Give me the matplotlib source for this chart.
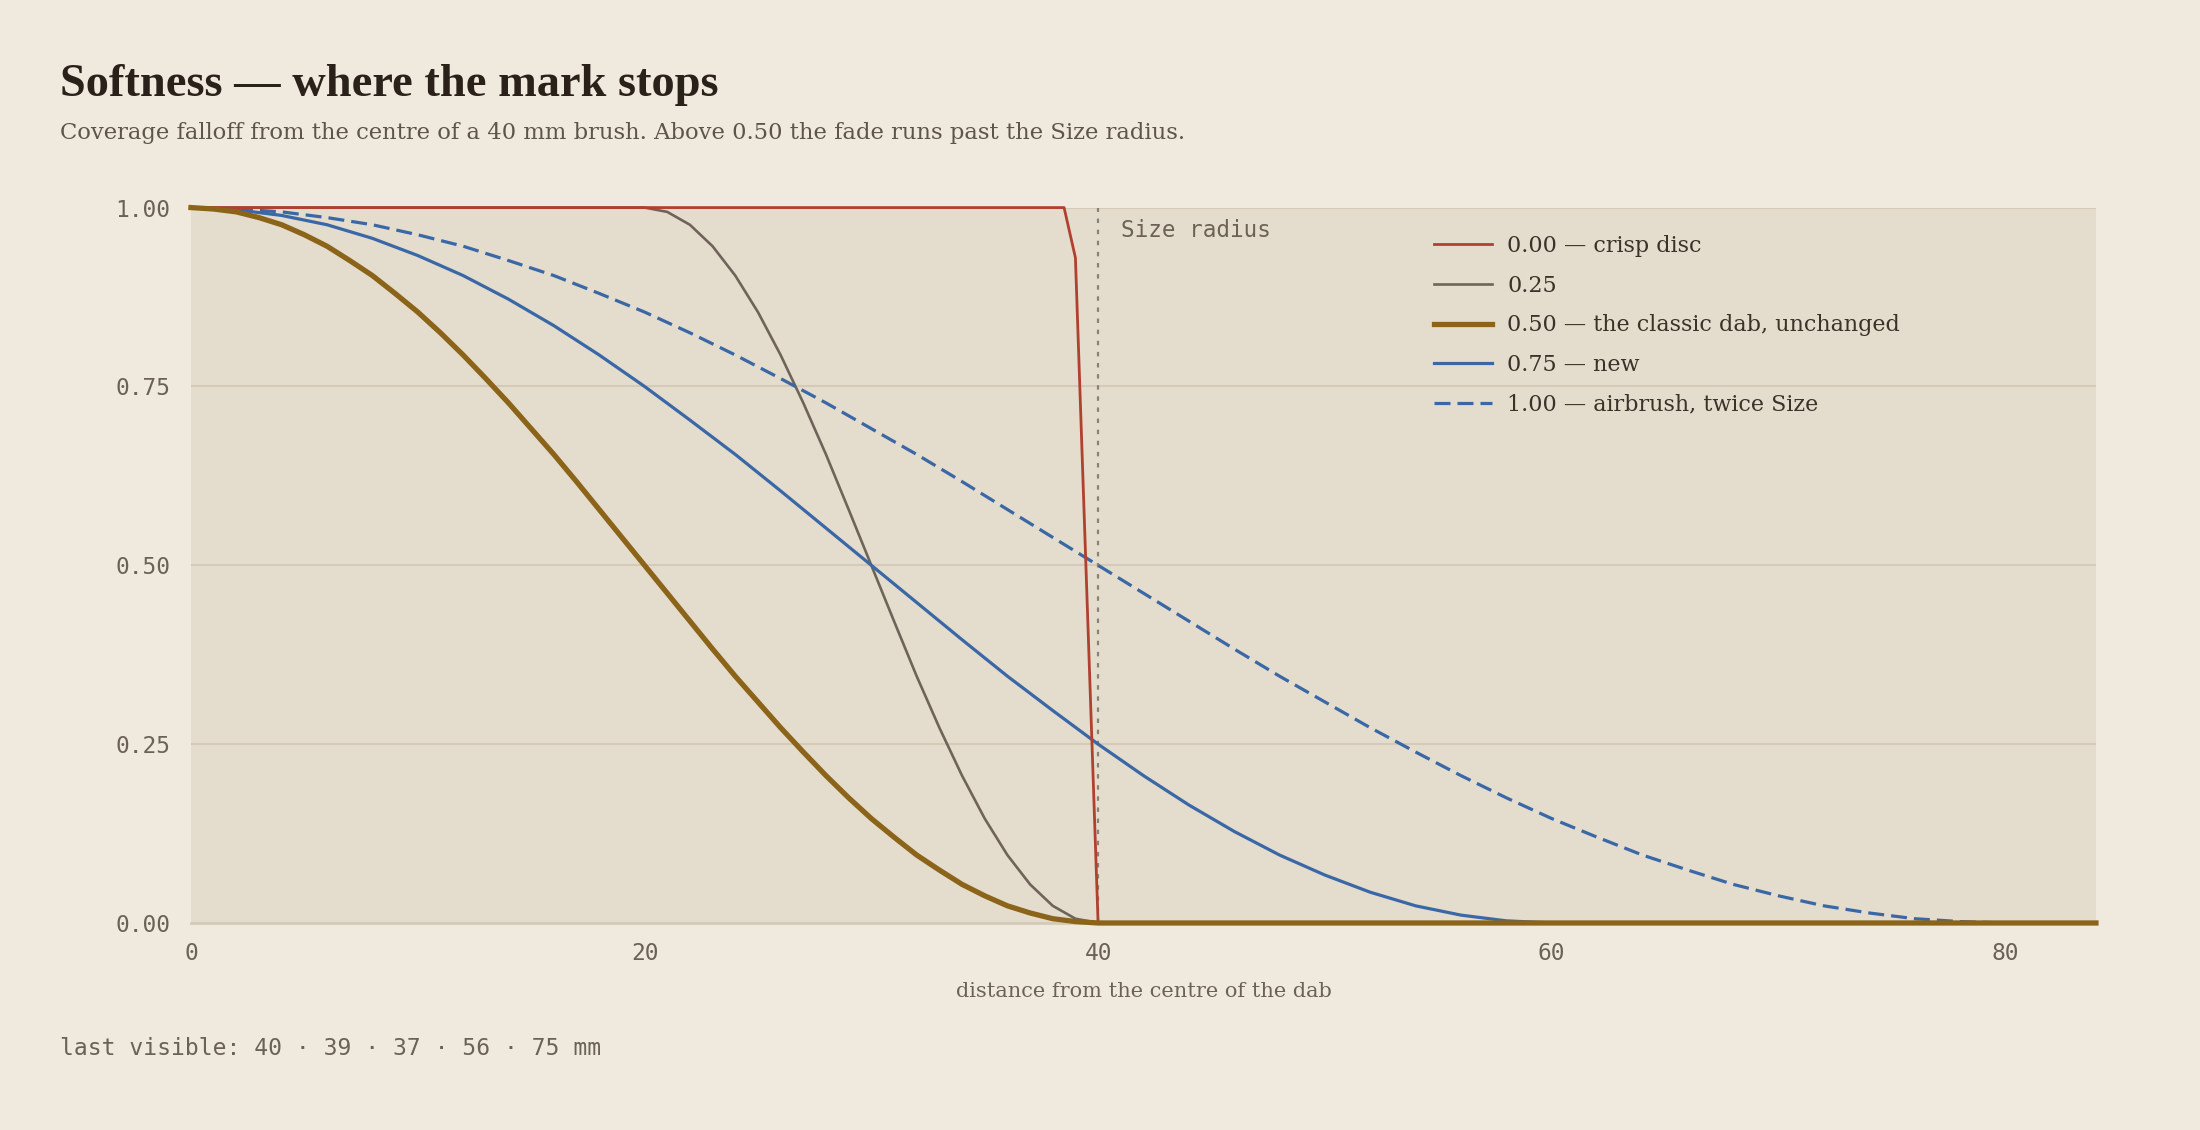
"""Softness falloff curves for the brush dab"""

import matplotlib
matplotlib.use("Agg")
import matplotlib.pyplot as plt

SERIF = ["DejaVu Serif"]
TITLE_SERIF = ["Liberation Serif", "DejaVu Serif"]
MONO = ["DejaVu Sans Mono"]

crisp_x = [0, 38.5, 39, 40, 84]
crisp_y = [1.0, 1.0, 0.93, 0.0, 0.0]

# 0.25: flat to 20 mm, then 1 mm steps from 20 to 40
soft25_x = [0] + list(range(20, 41)) + [84]
soft25_y = [1.0, 1.000, 0.994, 0.976, 0.946, 0.905, 0.854, 0.794, 0.727, 0.655,
            0.578, 0.500, 0.422, 0.345, 0.273, 0.206, 0.146, 0.095, 0.054,
            0.024, 0.006, 0.000, 0.0]

# 0.50: 1 mm steps from 0 to 40
soft50_x = list(range(0, 41)) + [84]
soft50_y = [1.000, 0.998, 0.994, 0.986, 0.976, 0.962, 0.946, 0.926, 0.905, 0.880,
            0.854, 0.825, 0.794, 0.761, 0.727, 0.691, 0.655, 0.617, 0.578, 0.539,
            0.500, 0.461, 0.422, 0.383, 0.345, 0.309, 0.273, 0.239, 0.206, 0.175,
            0.146, 0.120, 0.095, 0.074, 0.054, 0.038, 0.024, 0.014, 0.006, 0.002,
            0.000, 0.0]

# 0.75: 2 mm steps from 0 to 60
soft75_x = list(range(0, 61, 2)) + [84]
soft75_y = [1.000, 0.997, 0.989, 0.976, 0.957, 0.933, 0.905, 0.872, 0.835, 0.794,
            0.750, 0.703, 0.655, 0.604, 0.552, 0.500, 0.448, 0.396, 0.345, 0.297,
            0.250, 0.206, 0.165, 0.128, 0.095, 0.067, 0.043, 0.024, 0.011, 0.003,
            0.000, 0.0]

# 1.00: 2 mm steps from 0 to 80
soft100_x = list(range(0, 81, 2)) + [84]
soft100_y = [1.000, 0.998, 0.994, 0.986, 0.976, 0.962, 0.946, 0.926, 0.905, 0.880,
             0.854, 0.825, 0.794, 0.761, 0.727, 0.691, 0.655, 0.617, 0.578, 0.539,
             0.500, 0.461, 0.422, 0.383, 0.345, 0.309, 0.273, 0.239, 0.206, 0.175,
             0.146, 0.120, 0.095, 0.074, 0.054, 0.038, 0.024, 0.014, 0.006, 0.002,
             0.000, 0.0]

labels = ["0.00 — crisp disc", "0.25", "0.50 — the classic dab, unchanged",
          "0.75 — new", "1.00 — airbrush, twice Size"]
last_visible = [40, 39, 37, 56, 75]
size_radius = 40
x_ticks = [0, 20, 40, 60, 80]
y_ticks = [0.0, 0.25, 0.5, 0.75, 1.0]

BG = "#f0e9de"
PANEL = "#e4dccc"
GRID = "#d5cab7"
INK = "#2a211a"
MUTED = "#6b6255"

fig = plt.figure(figsize=(22, 11.3), dpi=100, facecolor=BG)
ax = fig.add_axes([0.0868, 0.1832, 0.8659, 0.6331])
ax.set_facecolor(PANEL)

ax.plot(crisp_x, crisp_y, color="#b0402f", lw=2.0, label=labels[0], zorder=4, clip_on=False)
ax.plot(soft25_x, soft25_y, color="#6e6458", lw=1.9, label=labels[1], zorder=3, clip_on=False)
ax.plot(soft50_x, soft50_y, color="#8b6419", lw=3.8, label=labels[2], zorder=5, clip_on=False)
ax.plot(soft75_x, soft75_y, color="#3a67a6", lw=2.3, label=labels[3], zorder=3, clip_on=False)
ax.plot(soft100_x, soft100_y, color="#3a67a6", lw=2.3, ls=(0, (5, 2.2)), label=labels[4],
        zorder=3, clip_on=False)

ax.axvline(size_radius, color="#8a8276", lw=1.6, ls=(0, (2, 3)), zorder=2)
ax.text(size_radius + 1.0, 0.968, "Size radius", family=MONO, fontsize=16.3,
        color=MUTED, va="center", ha="left")

ax.set_xlim(0, 84)
ax.set_ylim(0, 1)
ax.set_xticks(x_ticks)
ax.set_yticks(y_ticks)
ax.set_yticklabels(["%.2f" % v for v in y_ticks])
for lab in ax.get_xticklabels() + ax.get_yticklabels():
    lab.set_family(MONO)
    lab.set_fontsize(16.5)
    lab.set_color(MUTED)
ax.tick_params(axis="x", length=0, pad=14)
ax.tick_params(axis="y", length=0, pad=15)

ax.grid(axis="y", color=GRID, lw=1.5)
ax.set_axisbelow(True)
for side in ["left", "right", "top"]:
    ax.spines[side].set_visible(False)
ax.spines["bottom"].set_color(GRID)
ax.spines["bottom"].set_linewidth(2)

ax.set_xlabel("distance from the centre of the dab", family=SERIF, fontsize=15,
              color=MUTED, labelpad=12)

leg = ax.legend(loc="upper left", bbox_to_anchor=(0.642, 0.99), frameon=False,
                prop={"family": SERIF, "size": 16}, handlelength=2.6,
                handletextpad=0.7, labelspacing=0.8)
for t in leg.get_texts():
    t.set_color("#3b3229")

fig.text(0.0274, 0.915, "Softness — where the mark stops", family=TITLE_SERIF,
         fontsize=33.4, fontweight="bold", color=INK, va="baseline")
fig.text(0.0274, 0.877, "Coverage falloff from the centre of a 40 mm brush. "
         "Above 0.50 the fade runs past the Size radius.", family=SERIF,
         fontsize=16.3, color="#5e554a", va="baseline")
fig.text(0.0274, 0.066, "last visible: " + " · ".join(str(v) for v in last_visible) + " mm",
         family=MONO, fontsize=16.6, color=MUTED, va="baseline")

fig.savefig("out.png", dpi=100, facecolor=BG)
